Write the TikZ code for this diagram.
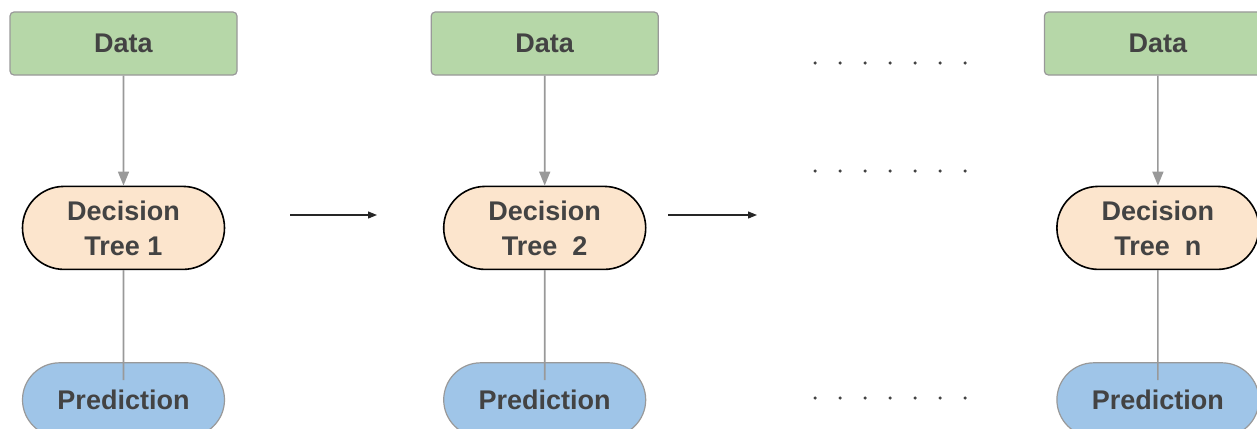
\documentclass[tikz,border=0pt]{standalone}
\usepackage{fontspec}
\setmainfont{Liberation Sans}
\usetikzlibrary{positioning,arrows.meta,shapes.misc}
\definecolor{leaf}{HTML}{B6D7A8}
\definecolor{peach}{HTML}{FCE5CD}
\definecolor{sky}{HTML}{9FC5E8}
\definecolor{ink}{HTML}{434343}
\definecolor{grey}{HTML}{999999}
\tikzset{box/.style={align=center,text=ink,font=\fontsize{27}{35}\selectfont\bfseries,inner sep=0pt,line width=1.2pt},
         pdata/.style={box,fill=leaf,draw=grey,rounded corners=4pt,minimum width=227pt,minimum height=63pt},
         ptree/.style={box,rounded rectangle,fill=peach,draw=black,line width=1.6pt,minimum width=202pt,minimum height=83pt},
         ppred/.style={box,rounded rectangle,fill=sky,draw=grey,minimum width=202pt,minimum height=74pt},
         feed/.style={-{Triangle[length=14pt,width=11pt]},grey,line width=1.6pt},
         link/.style={grey,line width=1.6pt},
         arr/.style={-{Triangle[length=9pt,width=7pt]},black!85,line width=1.2pt},
         dot/.style={circle,fill=ink,inner sep=0pt,minimum size=3.5pt}}

\begin{document}
\begin{tikzpicture}[x=1pt,y=-1pt]
 \useasboundingbox (0,0) rectangle (1257,428);
 \node[pdata] (d1) at (123.5,43.5) {Data};
 \node[pdata,right=193pt of d1] (d2) {Data};
 \node[pdata,right=385pt of d2] (d3) {Data};
 \node[ptree,below=110pt of d1] (t1) {Decision\\Tree 1};
 \node[ptree,below=110pt of d2] (t2) {Decision\\Tree~ 2};
 \node[ptree,below=110pt of d3] (t3) {Decision\\Tree~ n};
 \node[ppred,below=92pt of t1] (p1) {Prediction};
 \node[ppred,below=92pt of t2] (p2) {Prediction};
 \node[ppred,below=92pt of t3] (p3) {Prediction};
 \foreach \i in {1,2,3} {
   \draw[feed] (d\i) -- (t\i);
   \draw[link] (t\i) -- ([yshift=-18pt]p\i.north);
 }
 % passing on to the next tree
 \coordinate (a1) at (290,215); \coordinate (b1) at (377,215);
 \coordinate (a2) at (668,215); \coordinate (b2) at (757,215);
 \draw[arr] (a1)--(b1); \draw[arr] (a2)--(b2);
 % skipped trees
 \foreach \r/\y in {1/63,2/171,3/398}
   \foreach \k in {0,...,6}
     \node[dot] (dot\r\k) at (815+25*\k,\y) {};
\end{tikzpicture}
\end{document}
